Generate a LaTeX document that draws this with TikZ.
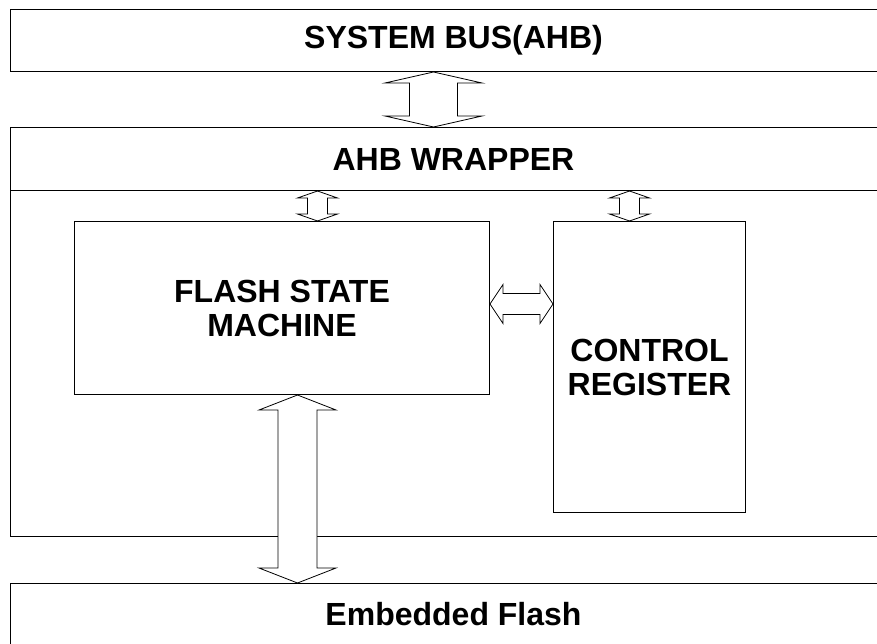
\documentclass[tikz,border=0pt]{standalone}
\usepackage{fontspec}
\setmainfont{Liberation Sans}
\usetikzlibrary{calc}
\tikzset{
    outer-box/.style = {draw=black, line width=1pt, rectangle, minimum width=887pt, anchor=north west, inner sep=0pt, font=\fontsize{32}{34}\selectfont\bfseries},
    inner-box/.style = {draw=black, line width=1pt, rectangle, anchor=north west, inner sep=0pt, align=center, font=\fontsize{32}{34}\selectfont\bfseries},
    bus-arrow/.style = {draw=black, line width=0.8pt, fill=white, line join=miter},
}
% vertical double arrow: top, bottom, half shaft, half head, head length
\newcommand{\vbus}[5]{\draw[bus-arrow] let \p1=(#1), \p2=(#2) in
    (\x1,\y1) -- (\x1+#4,\y1-#5) -- (\x1+#3,\y1-#5) -- (\x2+#3,\y2+#5) -- (\x2+#4,\y2+#5) -- (\x2,\y2)
    -- (\x2-#4,\y2+#5) -- (\x2-#3,\y2+#5) -- (\x1-#3,\y1-#5) -- (\x1-#4,\y1-#5) -- cycle;}
% horizontal double arrow: left, right, half shaft, half head, head length
\newcommand{\hbus}[5]{\draw[bus-arrow] let \p1=(#1), \p2=(#2) in
    (\x1,\y1) -- (\x1+#5,\y1+#4) -- (\x1+#5,\y1+#3) -- (\x2-#5,\y2+#3) -- (\x2-#5,\y2+#4) -- (\x2,\y2)
    -- (\x2-#5,\y2-#4) -- (\x2-#5,\y2-#3) -- (\x1+#5,\y1-#3) -- (\x1+#5,\y1-#4) -- cycle;}

\begin{document}
\begin{tikzpicture}[x=1pt, y=-1pt]
\useasboundingbox (0,0) rectangle (877,644);
\clip (0,0) rectangle (877,644);
\node[outer-box, minimum height=62pt] (bus) at (9.5,9) {SYSTEM BUS(AHB)};
\node[outer-box, minimum height=63pt] (wraphead) at (9.5,127) {AHB WRAPPER};
\node[outer-box, minimum height=346pt] (wrapbody) at (9.5,190) {};
\node[outer-box, minimum height=62pt] (flash) at (9.5,583) {Embedded Flash};
\node[inner-box, minimum width=415pt, minimum height=173pt] (fsm) at (74,221) {FLASH STATE\\MACHINE};
\node[inner-box, minimum width=192pt, minimum height=291pt] (ctrl) at (553,221) {CONTROL\\REGISTER};

\coordinate (bus-top) at ([xshift=-20pt]bus.south);
\coordinate (bus-bot) at ([xshift=-20pt]wraphead.north);
\coordinate (fsm-in) at ([xshift=35.5pt]fsm.north);
\coordinate (ctrl-in) at ([xshift=-20pt]ctrl.north);
\coordinate (fsm-out) at ([yshift=4pt]fsm.east);
\coordinate (fsm-down) at ([xshift=15.5pt]fsm.south);

\vbus{bus-top}{bus-bot}{24pt}{48.5pt}{11pt}
\vbus{fsm-in |- wraphead.south}{fsm-in}{10pt}{20pt}{7pt}
\vbus{ctrl-in |- wraphead.south}{ctrl-in}{10pt}{20pt}{7pt}
\hbus{fsm-out}{fsm-out -| ctrl.west}{10.5pt}{19.5pt}{13pt}
\vbus{fsm-down}{fsm-down |- flash.north}{19.5pt}{38.5pt}{15pt}
\end{tikzpicture}
\end{document}
